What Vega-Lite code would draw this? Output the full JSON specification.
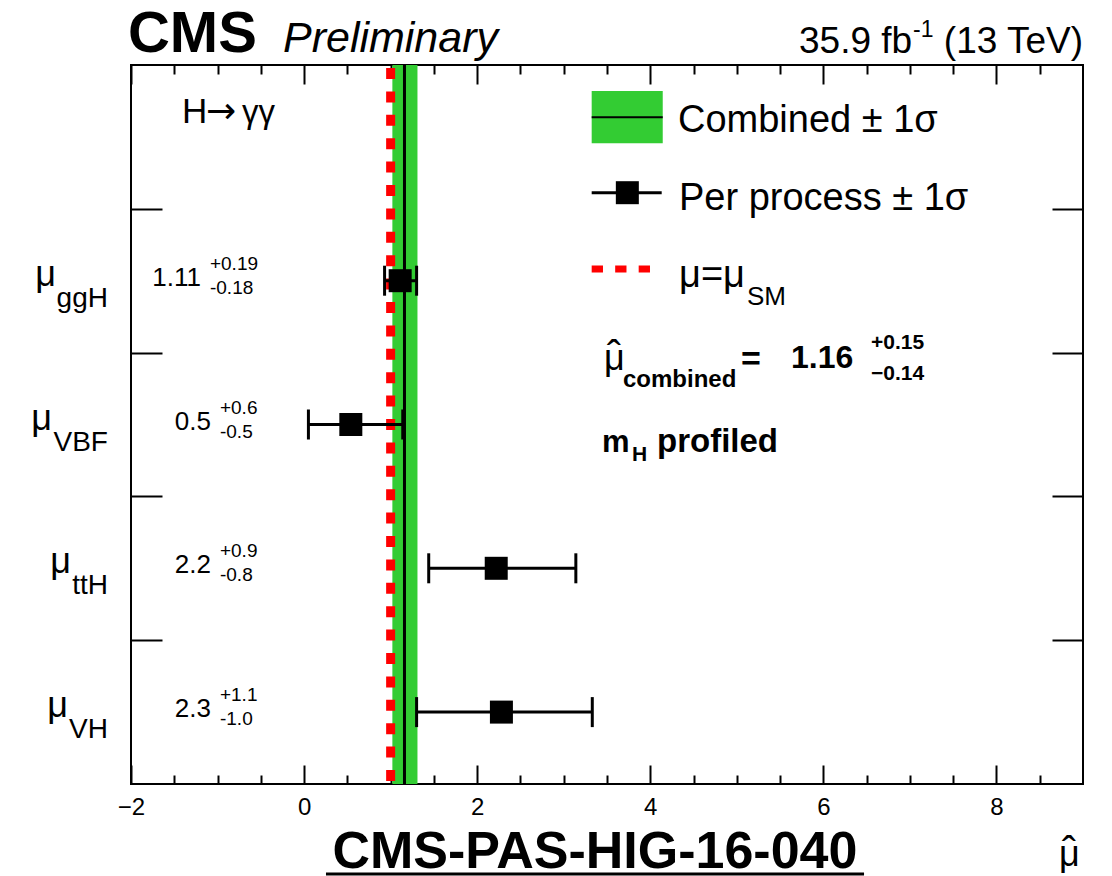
{
  "$schema": "https://vega.github.io/schema/vega-lite/v6.json",
  "width": 952,
  "height": 719,
  "autosize": {"type": "none"},
  "padding": {"left": 131, "top": 65, "right": 29, "bottom": 92},
  "background": "white",
  "config": {"view": {"stroke": "black", "strokeWidth": 2}, "font": "Liberation Sans"},
  "resolve": {"axis": {"x": "independent", "y": "independent"}},
  "data": {"values": [
    {"proc": "ggH", "pos": 3.5, "mu": 1.11, "lo": 0.93, "hi": 1.30, "val": "1.11", "up": "+0.19", "dn": "-0.18"},
    {"proc": "VBF", "pos": 2.5, "mu": 0.54, "lo": 0.05, "hi": 1.14, "val": "0.5", "up": "+0.6", "dn": "-0.5"},
    {"proc": "ttH", "pos": 1.5, "mu": 2.22, "lo": 1.44, "hi": 3.14, "val": "2.2", "up": "+0.9", "dn": "-0.8"},
    {"proc": "VH", "pos": 0.5, "mu": 2.28, "lo": 1.30, "hi": 3.33, "val": "2.3", "up": "+1.1", "dn": "-1.0"}
  ]},
  "layer": [
    {
      "data": {"values": [{}]},
      "mark": {"type": "point", "opacity": 0},
      "encoding": {
        "x": {"datum": 0, "type": "quantitative", "scale": {"domain": [-2, 9], "nice": false, "zero": false},
              "axis": {"orient": "bottom", "values": [-2, 0, 2, 4, 6, 8], "domain": false, "ticks": false, "tickSize": 0, "grid": false, "title": null,
                       "labelFont": "Liberation Sans", "labelFontSize": 24, "labelColor": "black", "labelPadding": 11, "labelFlush": false, "labelOverlap": false}},
        "y": {"datum": 0, "type": "quantitative", "scale": {"domain": [0, 5], "nice": false, "zero": false},
              "axis": {"orient": "right", "offset": -952, "values": [1, 2, 3, 4], "domain": false, "labels": false, "grid": false, "title": null,
                       "ticks": true, "tickSize": 31, "tickWidth": 2, "tickColor": "black"}}
      }
    },
    {
      "data": {"values": [{}]},
      "mark": {"type": "point", "opacity": 0},
      "encoding": {
        "x": {"datum": 0, "type": "quantitative",
              "axis": {"orient": "top", "offset": -719, "values": [-2, 0, 2, 4, 6, 8], "domain": false, "labels": false, "grid": false, "title": null,
                       "ticks": true, "tickSize": 19, "tickWidth": 2, "tickColor": "black"}},
        "y": {"datum": 0, "type": "quantitative",
              "axis": {"orient": "left", "offset": -952, "values": [1, 2, 3, 4], "domain": false, "labels": false, "grid": false, "title": null,
                       "ticks": true, "tickSize": 31, "tickWidth": 2, "tickColor": "black"}}
      }
    },
    {
      "data": {"values": [{}]},
      "mark": {"type": "point", "opacity": 0},
      "encoding": {
        "x": {"datum": 0, "type": "quantitative",
              "axis": {"orient": "top", "offset": -719, "values": [-1.5, -1, -0.5, 0.5, 1, 1.5, 2.5, 3, 3.5, 4.5, 5, 5.5, 6.5, 7, 7.5, 8.5], "domain": false, "labels": false, "grid": false, "title": null,
                       "ticks": true, "tickSize": 9, "tickWidth": 2, "tickColor": "black"}},
        "y": {"datum": 0, "type": "quantitative", "axis": null}
      }
    },
    {
      "data": {"values": [{}]},
      "mark": {"type": "point", "opacity": 0},
      "encoding": {
        "x": {"datum": 0, "type": "quantitative",
              "axis": {"orient": "bottom", "offset": -719, "values": [-2, 0, 2, 4, 6, 8], "domain": false, "labels": false, "grid": false, "title": null,
                       "ticks": true, "tickSize": 19, "tickWidth": 2, "tickColor": "black"}},
        "y": {"datum": 0, "type": "quantitative", "axis": null}
      }
    },
    {
      "data": {"values": [{}]},
      "mark": {"type": "point", "opacity": 0},
      "encoding": {
        "x": {"datum": 0, "type": "quantitative",
              "axis": {"orient": "bottom", "offset": -719, "values": [-1.5, -1, -0.5, 0.5, 1, 1.5, 2.5, 3, 3.5, 4.5, 5, 5.5, 6.5, 7, 7.5, 8.5], "domain": false, "labels": false, "grid": false, "title": null,
                       "ticks": true, "tickSize": 9, "tickWidth": 2, "tickColor": "black"}},
        "y": {"datum": 0, "type": "quantitative", "axis": null}
      }
    },
    {
      "data": {"values": [{}]},
      "mark": {"type": "rect", "color": "#33cc33"},
      "encoding": {
        "x": {"datum": 1.02, "type": "quantitative", "axis": null}, "x2": {"datum": 1.31},
        "y": {"datum": 0, "type": "quantitative", "axis": null}, "y2": {"datum": 5}
      }
    },
    {
      "data": {"values": [{}]},
      "mark": {"type": "rule", "color": "black", "strokeWidth": 3},
      "encoding": {
        "x": {"datum": 1.16, "type": "quantitative", "axis": null},
        "y": {"datum": 5, "type": "quantitative", "axis": null}, "y2": {"datum": 0}
      }
    },
    {
      "data": {"values": [{}]},
      "mark": {"type": "rule", "color": "#ff0000", "strokeWidth": 9, "strokeDash": [11, 12.4], "strokeDashOffset": 20.4},
      "encoding": {
        "x": {"datum": 1.0, "type": "quantitative", "axis": null},
        "y": {"datum": 5, "type": "quantitative", "axis": null}, "y2": {"datum": 0}
      }
    },
    {
      "mark": {"type": "rule", "color": "black", "strokeWidth": 3},
      "encoding": {
        "x": {"field": "lo", "type": "quantitative", "axis": null}, "x2": {"field": "hi"},
        "y": {"field": "pos", "type": "quantitative", "axis": null}
      }
    },
    {
      "mark": {"type": "tick", "color": "black", "thickness": 3, "size": 30, "orient": "vertical", "opacity": 1},
      "encoding": {
        "x": {"field": "lo", "type": "quantitative", "axis": null},
        "y": {"field": "pos", "type": "quantitative", "axis": null}
      }
    },
    {
      "mark": {"type": "tick", "color": "black", "thickness": 3, "size": 30, "orient": "vertical", "opacity": 1},
      "encoding": {
        "x": {"field": "hi", "type": "quantitative", "axis": null},
        "y": {"field": "pos", "type": "quantitative", "axis": null}
      }
    },
    {
      "mark": {"type": "point", "shape": "square", "filled": true, "color": "black", "size": 529, "opacity": 1, "strokeWidth": 0},
      "encoding": {
        "x": {"field": "mu", "type": "quantitative", "axis": null},
        "y": {"field": "pos", "type": "quantitative", "axis": null}
      }
    },
    {
      "mark": {"type": "text", "text": "μ", "fontSize": 36, "align": "right", "baseline": "alphabetic", "color": "black", "dy": 5,
               "dx": {"expr": "datum.proc == 'ggH' ? -52 : datum.proc == 'VBF' ? -56 : datum.proc == 'ttH' ? -37 : -40"}},
      "encoding": {
        "x": {"datum": -2.266, "type": "quantitative", "axis": null},
        "y": {"field": "pos", "type": "quantitative", "axis": null}
      }
    },
    {
      "mark": {"type": "text", "fontSize": 28, "align": "right", "baseline": "alphabetic", "color": "black", "dy": 26},
      "encoding": {
        "x": {"datum": -2.266, "type": "quantitative", "axis": null},
        "y": {"field": "pos", "type": "quantitative", "axis": null},
        "text": {"field": "proc"}
      }
    },
    {
      "mark": {"type": "text", "fontSize": 26, "align": "right", "baseline": "alphabetic", "color": "black", "dy": 5,
               "dx": {"expr": "length(datum.up) > 4 ? -57 : -47"}},
      "encoding": {
        "x": {"datum": -0.533, "type": "quantitative", "axis": null},
        "y": {"field": "pos", "type": "quantitative", "axis": null},
        "text": {"field": "val"}
      }
    },
    {
      "mark": {"type": "text", "fontSize": 19, "align": "left", "baseline": "alphabetic", "color": "black", "dy": -11,
               "dx": {"expr": "length(datum.up) > 4 ? -48 : -38"}},
      "encoding": {
        "x": {"datum": -0.533, "type": "quantitative", "axis": null},
        "y": {"field": "pos", "type": "quantitative", "axis": null},
        "text": {"field": "up"}
      }
    },
    {
      "mark": {"type": "text", "fontSize": 19, "align": "left", "baseline": "alphabetic", "color": "black", "dy": 13,
               "dx": {"expr": "length(datum.up) > 4 ? -48 : -38"}},
      "encoding": {
        "x": {"datum": -0.533, "type": "quantitative", "axis": null},
        "y": {"field": "pos", "type": "quantitative", "axis": null},
        "text": {"field": "dn"}
      }
    },
    {
      "data": {"values": [{}]},
      "mark": {"type": "rect", "color": "#33cc33"},
      "encoding": {
        "x": {"datum": 3.323, "type": "quantitative", "axis": null}, "x2": {"datum": 4.144},
        "y": {"datum": 4.819, "type": "quantitative", "axis": null}, "y2": {"datum": 4.455}
      }
    },
    {
      "data": {"values": [{}]},
      "mark": {"type": "rule", "color": "black", "strokeWidth": 2},
      "encoding": {
        "x": {"datum": 3.323, "type": "quantitative", "axis": null}, "x2": {"datum": 4.144},
        "y": {"datum": 4.636, "type": "quantitative", "axis": null}
      }
    },
    {
      "data": {"values": [{}]},
      "mark": {"type": "rule", "color": "black", "strokeWidth": 3},
      "encoding": {
        "x": {"datum": 3.323, "type": "quantitative", "axis": null}, "x2": {"datum": 4.132},
        "y": {"datum": 4.112, "type": "quantitative", "axis": null}
      }
    },
    {
      "data": {"values": [{}]},
      "mark": {"type": "point", "shape": "square", "filled": true, "color": "black", "size": 529, "opacity": 1, "strokeWidth": 0},
      "encoding": {
        "x": {"datum": 3.735, "type": "quantitative", "axis": null},
        "y": {"datum": 4.112, "type": "quantitative", "axis": null}
      }
    },
    {
      "data": {"values": [{}]},
      "mark": {"type": "rule", "color": "#ff0000", "strokeWidth": 7, "strokeDash": [11.3, 12.2]},
      "encoding": {
        "x": {"datum": 3.323, "type": "quantitative", "axis": null}, "x2": {"datum": 4.005},
        "y": {"datum": 3.581, "type": "quantitative", "axis": null}
      }
    },
    {
      "data": {"values": [{}]},
      "mark": {"type": "text", "color": "black", "baseline": "alphabetic", "fontSize": 38, "align": "left", "text": "Combined ± 1σ"},
      "encoding": {
        "x": {"datum": 4.320, "type": "quantitative", "axis": null},
        "y": {"datum": 4.534, "type": "quantitative", "axis": null}
      }
    },
    {
      "data": {"values": [{}]},
      "mark": {"type": "text", "color": "black", "baseline": "alphabetic", "fontSize": 38, "align": "left", "text": "Per process ± 1σ"},
      "encoding": {
        "x": {"datum": 4.332, "type": "quantitative", "axis": null},
        "y": {"datum": 3.992, "type": "quantitative", "axis": null}
      }
    },
    {
      "data": {"values": [{}]},
      "mark": {"type": "text", "color": "black", "baseline": "alphabetic", "fontSize": 38, "align": "left", "text": "μ=μ"},
      "encoding": {
        "x": {"datum": 4.332, "type": "quantitative", "axis": null},
        "y": {"datum": 3.456, "type": "quantitative", "axis": null}
      }
    },
    {
      "data": {"values": [{}]},
      "mark": {"type": "text", "color": "black", "baseline": "alphabetic", "fontSize": 26, "align": "left", "text": "SM"},
      "encoding": {
        "x": {"datum": 5.118, "type": "quantitative", "axis": null},
        "y": {"datum": 3.331, "type": "quantitative", "axis": null}
      }
    },
    {
      "data": {"values": [{}]},
      "mark": {"type": "text", "color": "black", "baseline": "alphabetic", "fontSize": 36, "align": "left", "text": "μ"},
      "encoding": {
        "x": {"datum": 3.465, "type": "quantitative", "axis": null},
        "y": {"datum": 2.879, "type": "quantitative", "axis": null}
      }
    },
    {
      "data": {"values": [{}]},
      "mark": {"type": "text", "color": "black", "baseline": "alphabetic", "fontSize": 42, "align": "center", "text": "ˆ"},
      "encoding": {
        "x": {"datum": 3.581, "type": "quantitative", "axis": null},
        "y": {"datum": 2.879, "type": "quantitative", "axis": null}
      }
    },
    {
      "data": {"values": [{}]},
      "mark": {"type": "text", "color": "black", "baseline": "alphabetic", "fontSize": 24, "fontWeight": "bold", "align": "left", "text": "combined"},
      "encoding": {
        "x": {"datum": 3.685, "type": "quantitative", "axis": null},
        "y": {"datum": 2.761, "type": "quantitative", "axis": null}
      }
    },
    {
      "data": {"values": [{}]},
      "mark": {"type": "text", "color": "black", "baseline": "alphabetic", "fontSize": 34, "fontWeight": "bold", "align": "left", "text": "="},
      "encoding": {
        "x": {"datum": 5.048, "type": "quantitative", "axis": null},
        "y": {"datum": 2.879, "type": "quantitative", "axis": null}
      }
    },
    {
      "data": {"values": [{}]},
      "mark": {"type": "text", "color": "black", "baseline": "alphabetic", "fontSize": 32, "fontWeight": "bold", "align": "left", "text": "1.16"},
      "encoding": {
        "x": {"datum": 5.626, "type": "quantitative", "axis": null},
        "y": {"datum": 2.893, "type": "quantitative", "axis": null}
      }
    },
    {
      "data": {"values": [{}]},
      "mark": {"type": "text", "color": "black", "baseline": "alphabetic", "fontSize": 21, "fontWeight": "bold", "align": "left", "text": "+0.15"},
      "encoding": {
        "x": {"datum": 6.551, "type": "quantitative", "axis": null},
        "y": {"datum": 3.025, "type": "quantitative", "axis": null}
      }
    },
    {
      "data": {"values": [{}]},
      "mark": {"type": "text", "color": "black", "baseline": "alphabetic", "fontSize": 21, "fontWeight": "bold", "align": "left", "text": "−0.14"},
      "encoding": {
        "x": {"datum": 6.551, "type": "quantitative", "axis": null},
        "y": {"datum": 2.809, "type": "quantitative", "axis": null}
      }
    },
    {
      "data": {"values": [{}]},
      "mark": {"type": "text", "color": "black", "baseline": "alphabetic", "fontSize": 31, "fontWeight": "bold", "align": "left", "text": "m"},
      "encoding": {
        "x": {"datum": 3.442, "type": "quantitative", "axis": null},
        "y": {"datum": 2.309, "type": "quantitative", "axis": null}
      }
    },
    {
      "data": {"values": [{}]},
      "mark": {"type": "text", "color": "black", "baseline": "alphabetic", "fontSize": 21, "fontWeight": "bold", "align": "left", "text": "H"},
      "encoding": {
        "x": {"datum": 3.789, "type": "quantitative", "axis": null},
        "y": {"datum": 2.246, "type": "quantitative", "axis": null}
      }
    },
    {
      "data": {"values": [{}]},
      "mark": {"type": "text", "color": "black", "baseline": "alphabetic", "fontSize": 33, "fontWeight": "bold", "align": "left", "text": "profiled"},
      "encoding": {
        "x": {"datum": 4.078, "type": "quantitative", "axis": null},
        "y": {"datum": 2.309, "type": "quantitative", "axis": null}
      }
    },
    {
      "data": {"values": [{}]},
      "mark": {"type": "text", "color": "black", "baseline": "alphabetic", "fontSize": 35, "align": "left", "text": "H"},
      "encoding": {
        "x": {"datum": -1.411, "type": "quantitative", "axis": null},
        "y": {"datum": 4.597, "type": "quantitative", "axis": null}
      }
    },
    {
      "data": {"values": [{}]},
      "mark": {"type": "text", "color": "black", "baseline": "alphabetic", "fontSize": 36, "font": "DejaVu Sans", "align": "left", "text": "→"},
      "encoding": {
        "x": {"datum": -1.133, "type": "quantitative", "axis": null},
        "y": {"datum": 4.597, "type": "quantitative", "axis": null}
      }
    },
    {
      "data": {"values": [{}]},
      "mark": {"type": "text", "color": "black", "baseline": "alphabetic", "fontSize": 33, "align": "left", "text": "γγ"},
      "encoding": {
        "x": {"datum": -0.717, "type": "quantitative", "axis": null},
        "y": {"datum": 4.597, "type": "quantitative", "axis": null}
      }
    },
    {
      "data": {"values": [{}]},
      "mark": {"type": "text", "color": "black", "baseline": "alphabetic", "fontSize": 58, "fontWeight": "bold", "align": "left", "text": "CMS"},
      "encoding": {
        "x": {"datum": -2.035, "type": "quantitative", "axis": null},
        "y": {"datum": 5.090, "type": "quantitative", "axis": null}
      }
    },
    {
      "data": {"values": [{}]},
      "mark": {"type": "text", "color": "black", "baseline": "alphabetic", "fontSize": 43, "fontStyle": "italic", "align": "left", "text": "Preliminary"},
      "encoding": {
        "x": {"datum": -0.244, "type": "quantitative", "axis": null},
        "y": {"datum": 5.090, "type": "quantitative", "axis": null}
      }
    },
    {
      "data": {"values": [{}]},
      "mark": {"type": "text", "color": "black", "baseline": "alphabetic", "fontSize": 37, "align": "left", "text": "35.9 fb"},
      "encoding": {
        "x": {"datum": 5.719, "type": "quantitative", "axis": null},
        "y": {"datum": 5.086, "type": "quantitative", "axis": null}
      }
    },
    {
      "data": {"values": [{}]},
      "mark": {"type": "text", "color": "black", "baseline": "alphabetic", "fontSize": 23, "align": "left", "text": "-1"},
      "encoding": {
        "x": {"datum": 7.036, "type": "quantitative", "axis": null},
        "y": {"datum": 5.195, "type": "quantitative", "axis": null}
      }
    },
    {
      "data": {"values": [{}]},
      "mark": {"type": "text", "color": "black", "baseline": "alphabetic", "fontSize": 37, "align": "right", "text": "(13 TeV)"},
      "encoding": {
        "x": {"datum": 9.0, "type": "quantitative", "axis": null},
        "y": {"datum": 5.086, "type": "quantitative", "axis": null}
      }
    },
    {
      "data": {"values": [{}]},
      "mark": {"type": "text", "color": "black", "baseline": "alphabetic", "fontSize": 52, "fontWeight": "bold", "align": "center", "text": "CMS-PAS-HIG-16-040"},
      "encoding": {
        "x": {"datum": 3.361, "type": "quantitative", "axis": null},
        "y": {"datum": -0.584, "type": "quantitative", "axis": null}
      }
    },
    {
      "data": {"values": [{}]},
      "mark": {"type": "rule", "color": "black", "strokeWidth": 3},
      "encoding": {
        "x": {"datum": 0.253, "type": "quantitative", "axis": null}, "x2": {"datum": 6.470},
        "y": {"datum": -0.626, "type": "quantitative", "axis": null}
      }
    },
    {
      "data": {"values": [{}]},
      "mark": {"type": "text", "color": "black", "baseline": "alphabetic", "fontSize": 36, "align": "left", "text": "μ"},
      "encoding": {
        "x": {"datum": 8.723, "type": "quantitative", "axis": null},
        "y": {"datum": -0.570, "type": "quantitative", "axis": null}
      }
    },
    {
      "data": {"values": [{}]},
      "mark": {"type": "text", "color": "black", "baseline": "alphabetic", "fontSize": 42, "align": "center", "text": "ˆ"},
      "encoding": {
        "x": {"datum": 8.838, "type": "quantitative", "axis": null},
        "y": {"datum": -0.570, "type": "quantitative", "axis": null}
      }
    }
  ]
}
